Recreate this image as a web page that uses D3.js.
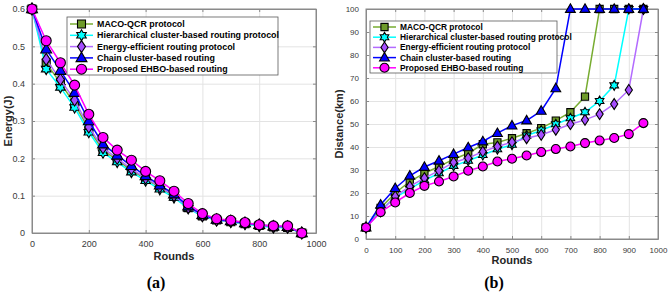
<!DOCTYPE html>
<html>
<head>
<meta charset="utf-8">
<script src="https://cdn.jsdelivr.net/npm/d3@7"></script>
<style>
  body { margin: 0; background: #fff; }
  svg { display: block; }
  .tick text { font-family: "Liberation Sans", Arial, sans-serif; fill: #3a3a3a; }
</style>
</head>
<body>
<svg id="chart" width="669" height="295"></svg>
<script>
var rounds = [0, 50, 100, 150, 200, 250, 300, 350, 400, 450, 500, 550, 600, 650, 700, 750, 800, 850, 900, 950];

var seriesNames = [
  'MACO-QCR protocol',
  'Hierarchical cluster-based routing protocol',
  'Energy-efficient routing protocol',
  'Chain cluster-based routing',
  'Proposed EHBO-based routing'
];

// energy (J) per round
var energyMACO  = [0.6, 0.455, 0.402, 0.346, 0.278, 0.222, 0.195, 0.168, 0.145, 0.122, 0.098, 0.068, 0.046, 0.035, 0.030, 0.025, 0.020, 0.016, 0.015, 0];
var energyHier  = [0.6, 0.439, 0.390, 0.336, 0.270, 0.215, 0.190, 0.163, 0.140, 0.117, 0.095, 0.066, 0.045, 0.034, 0.030, 0.024, 0.019, 0.015, 0.014, 0];
var energyEff   = [0.6, 0.465, 0.411, 0.356, 0.284, 0.228, 0.200, 0.172, 0.147, 0.124, 0.100, 0.069, 0.047, 0.035, 0.031, 0.026, 0.021, 0.017, 0.016, 0];
var energyChain = [0.6, 0.492, 0.435, 0.376, 0.300, 0.238, 0.208, 0.180, 0.153, 0.128, 0.104, 0.072, 0.049, 0.036, 0.032, 0.027, 0.022, 0.018, 0.017, 0];
var energyEHBO  = [0.6, 0.515, 0.456, 0.396, 0.318, 0.256, 0.222, 0.195, 0.165, 0.140, 0.112, 0.079, 0.052, 0.038, 0.034, 0.028, 0.022, 0.019, 0.019, 0];

// distance (km) per round
var distMACO  = [5, 13.5, 20, 25, 28.6, 31.5, 34.7, 37.3, 41.2, 42, 43.8, 46, 48.2, 51.5, 55.1, 61.9, 100, 100, 100, 100];
var distHier  = [5, 12.5, 18, 21.8, 25.5, 28.6, 31.8, 34, 36.5, 39, 41, 45, 47.2, 49.9, 52.5, 55.1, 60, 66.8, 100, 100];
var distEff   = [5, 12, 18.5, 22.9, 26.5, 29.7, 33.3, 35.2, 38, 40.2, 42.1, 43.8, 45.3, 47.5, 49.9, 51.8, 54.3, 58.7, 64.8, 100];
var distChain = [5, 14.9, 22.1, 27.5, 31.3, 34, 36.9, 39.8, 42.4, 46, 49.3, 51.5, 55.7, 65.5, 100, 100, 100, 100, 100, 100];
var distEHBO  = [5, 11.7, 15.9, 20, 23.1, 25, 27.2, 29.7, 31.5, 33.7, 34.9, 36.3, 37.8, 39.1, 40.2, 41.7, 42.8, 43.9, 45.6, 50.4];

var styles = [
  { line: '#77AC30', fill: '#6E9B2A', marker: 'square' },
  { line: '#00FFFF', fill: '#00FFFF', marker: 'hexagram' },
  { line: '#B36BFF', fill: '#A64DFF', marker: 'diamond' },
  { line: '#0000FF', fill: '#0000FF', marker: 'triangle' },
  { line: '#FF00FF', fill: '#FF00FF', marker: 'circle' }
];

function markerPath(type, r) {
  if (type === 'circle') return d3.symbol(d3.symbolCircle, Math.PI * r * r)();
  if (type === 'square') return d3.symbol(d3.symbolSquare, (1.6 * r) * (1.6 * r))();
  if (type === 'diamond') {
    var w = r * 0.8, h = r * 1.2;
    return 'M0,' + (-h) + 'L' + w + ',0L0,' + h + 'L' + (-w) + ',0Z';
  }
  if (type === 'triangle') {
    var t = r * 1.15;
    return 'M0,' + (-t) + 'L' + (t * 0.95) + ',' + (t * 0.65) + 'L' + (-t * 0.95) + ',' + (t * 0.65) + 'Z';
  }
  // six-pointed star
  var pts = [];
  for (var i = 0; i < 12; i++) {
    var a = -Math.PI / 2 + i * Math.PI / 6;
    var rr = i % 2 === 0 ? r * 1.1 : r * 1.1 / Math.sqrt(3);
    pts.push([rr * Math.cos(a), rr * Math.sin(a)]);
  }
  return 'M' + pts.map(function(p){ return p[0].toFixed(2) + ',' + p[1].toFixed(2); }).join('L') + 'Z';
}

var svg = d3.select('#chart');

function drawPanel(cfg) {
  var g = svg.append('g');
  var x = d3.scaleLinear().domain([0, 1000]).range([cfg.left, cfg.right]);
  var y = d3.scaleLinear().domain(cfg.yDomain).range([cfg.bottom, cfg.top]);
  var w = cfg.right - cfg.left, h = cfg.bottom - cfg.top;

  // grid
  g.append('g').attr('transform', 'translate(0,' + cfg.bottom + ')')
    .call(d3.axisBottom(x).tickValues(cfg.xTicks).tickSize(-h).tickFormat(''))
    .call(function(s){ s.select('.domain').remove(); s.selectAll('line').attr('stroke', '#e3e3e3'); });
  g.append('g').attr('transform', 'translate(' + cfg.left + ',0)')
    .call(d3.axisLeft(y).tickValues(cfg.yTicks).tickSize(-w).tickFormat(''))
    .call(function(s){ s.select('.domain').remove(); s.selectAll('line').attr('stroke', '#e3e3e3'); });

  // axes with inward ticks
  var xa = g.append('g').attr('transform', 'translate(0,' + cfg.bottom + ')')
    .call(d3.axisBottom(x).tickValues(cfg.xTicks).tickSizeInner(-3).tickSizeOuter(0).tickPadding(8).tickFormat(d3.format('d')));
  var ya = g.append('g').attr('transform', 'translate(' + cfg.left + ',0)')
    .call(d3.axisLeft(y).tickValues(cfg.yTicks).tickSizeInner(-3).tickSizeOuter(0).tickPadding(7).tickFormat(cfg.yFormat));
  g.append('g').attr('transform', 'translate(0,' + cfg.top + ')')
    .call(d3.axisTop(x).tickValues(cfg.xTicks).tickSizeInner(-3).tickSizeOuter(0).tickFormat(''));
  g.append('g').attr('transform', 'translate(' + cfg.right + ',0)')
    .call(d3.axisRight(y).tickValues(cfg.yTicks).tickSizeInner(-3).tickSizeOuter(0).tickFormat(''));
  g.selectAll('.domain').attr('stroke', '#8a8a8a');
  g.selectAll('.tick line').filter(function(){ return d3.select(this).attr('stroke') !== '#e3e3e3'; }).attr('stroke', '#8a8a8a');
  xa.selectAll('text').attr('font-size', cfg.tickFont);
  ya.selectAll('text').attr('font-size', cfg.tickFont);

  g.append('rect').attr('x', cfg.left).attr('y', cfg.top).attr('width', w).attr('height', h)
    .attr('fill', 'none').attr('stroke', '#8a8a8a').attr('stroke-width', 1);

  // series
  var line = d3.line().x(function(d){ return x(d[0]); }).y(function(d){ return y(d[1]); });
  cfg.series.forEach(function(vals, i) {
    var pts = rounds.map(function(r, j){ return [r, vals[j]]; });
    var st = styles[i];
    g.append('path').datum(pts).attr('d', line).attr('fill', 'none')
      .attr('stroke', st.line).attr('stroke-width', 1.5);
    g.selectAll(null).data(pts).enter().append('path')
      .attr('transform', function(d){ return 'translate(' + x(d[0]) + ',' + y(d[1]) + ')'; })
      .attr('d', markerPath(st.marker, cfg.markerR))
      .attr('fill', st.fill).attr('stroke', '#000').attr('stroke-width', 1.1);
  });

  // axis titles
  g.append('text').attr('x', (cfg.left + cfg.right) / 2).attr('y', cfg.xLabelY)
    .attr('text-anchor', 'middle').attr('font-family', '"Liberation Sans", Arial, sans-serif')
    .attr('font-weight', 'bold').attr('font-size', 11).attr('fill', '#262626').text('Rounds');
  g.append('text').attr('transform', 'translate(' + cfg.yLabelX + ',' + ((cfg.top + cfg.bottom) / 2) + ') rotate(-90)')
    .attr('text-anchor', 'middle').attr('font-family', '"Liberation Sans", Arial, sans-serif')
    .attr('font-weight', 'bold').attr('font-size', 11).attr('fill', '#262626').text(cfg.yLabel);
  g.append('text').attr('x', cfg.capX).attr('y', 288)
    .attr('text-anchor', 'middle').attr('font-family', '"Liberation Serif", "Times New Roman", serif')
    .attr('font-weight', 'bold').attr('font-size', 16).attr('fill', '#000').text(cfg.caption);

  // legend
  var L = cfg.legend;
  var lg = g.append('g');
  lg.append('rect').attr('x', L.x).attr('y', L.y).attr('width', L.w).attr('height', L.h)
    .attr('fill', '#fff').attr('stroke', '#5a5a5a').attr('stroke-width', 0.8);
  seriesNames.forEach(function(name, i) {
    var yy = L.y + L.pad + i * L.step;
    var st = styles[i];
    lg.append('line').attr('x1', L.x + 3).attr('x2', L.x + 26).attr('y1', yy).attr('y2', yy)
      .attr('stroke', st.line).attr('stroke-width', 1.5);
    lg.append('path').attr('transform', 'translate(' + (L.x + 14.5) + ',' + yy + ')')
      .attr('d', markerPath(st.marker, cfg.markerR))
      .attr('fill', st.fill).attr('stroke', '#000').attr('stroke-width', 1.1);
    lg.append('text').attr('x', L.x + 30).attr('y', yy).attr('dy', '0.35em')
      .attr('font-family', '"Liberation Sans", Arial, sans-serif').attr('font-weight', 'bold')
      .attr('font-size', L.font).attr('fill', '#000').text(name);
  });
}

drawPanel({
  left: 32, right: 316, top: 9, bottom: 233,
  yDomain: [0, 0.6], yTicks: [0, 0.1, 0.2, 0.3, 0.4, 0.5, 0.6], yFormat: function(d){ return d === 0 ? '0' : d3.format('.1f')(d); },
  xTicks: [0, 200, 400, 600, 800, 1000], tickFont: 9,
  series: [energyMACO, energyHier, energyEff, energyChain, energyEHBO],
  markerR: 5, xLabelY: 260, yLabelX: 12, yLabel: 'Energy(J)', capX: 156, caption: '(a)',
  legend: { x: 67, y: 17, w: 211, h: 58, pad: 7, step: 11.3, font: 8.9 }
});

drawPanel({
  left: 366, right: 658, top: 9, bottom: 239,
  yDomain: [0, 100], yTicks: d3.range(0, 101, 10), yFormat: d3.format('d'),
  xTicks: d3.range(0, 1001, 100), tickFont: 8,
  series: [distMACO, distHier, distEff, distChain, distEHBO],
  markerR: 4.5, xLabelY: 264, yLabelX: 343, yLabel: 'Distance(km)', capX: 494, caption: '(b)',
  legend: { x: 370, y: 21, w: 187, h: 52, pad: 6, step: 10.2, font: 8.4 }
});
</script>
</body>
</html>
